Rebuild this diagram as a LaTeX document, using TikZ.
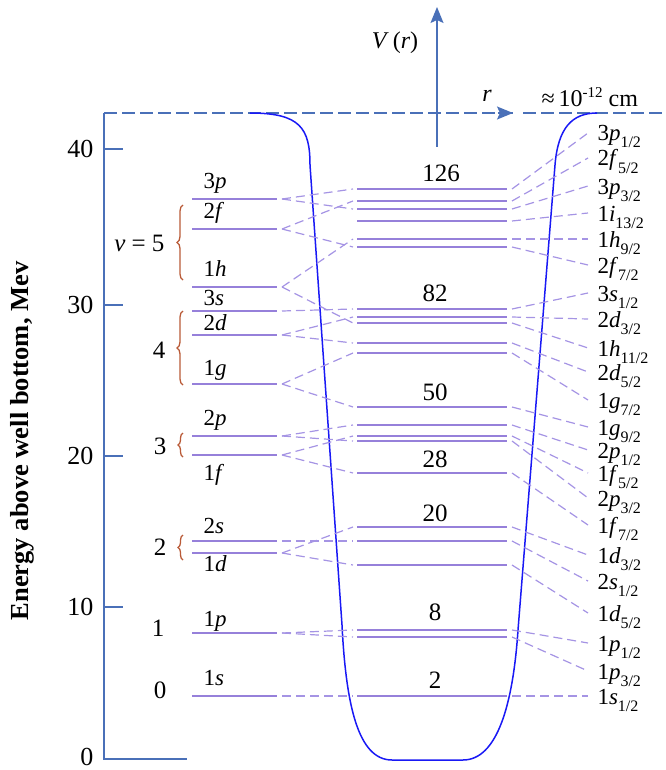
\documentclass[tikz,border=0pt]{standalone}
\usepackage{fontspec}
\setmainfont{Liberation Serif}
\usetikzlibrary{arrows.meta,decorations.pathreplacing}
\definecolor{axisblue}{RGB}{74,112,184}
\definecolor{lvl}{RGB}{150,128,218}
\definecolor{lvldash}{RGB}{165,148,228}
\definecolor{wellblue}{RGB}{25,25,245}
\definecolor{bracec}{RGB}{185,90,55}
\newcommand\myfs[1]{\fontsize{#1}{#1}\selectfont}
\newcommand\rlab[3]{#1\textit{#2}\raisebox{-7pt}{\myfs{16}#3}}
\begin{document}
\begin{tikzpicture}[x=1pt,y=-1pt,
  level/.style={draw=lvl,line width=1.5pt},
  conn/.style={draw=lvldash,line width=1.2pt,dash pattern=on 9pt off 5pt},
  axisline/.style={draw=axisblue,line width=1.4pt},
  axisdash/.style={draw=axisblue,line width=1.4pt,dash pattern=on 13pt off 5pt},
  tick/.style={anchor=east,font=\myfs{26}},
  osc/.style={anchor=east,font=\myfs{25}},
  llab/.style={anchor=base west,font=\myfs{23}},
  rl/.style={anchor=base west,font=\myfs{23}},
  magic/.style={font=\myfs{25}},
  bracestyle/.style={draw=bracec,line width=1.3pt,decorate,decoration={brace,amplitude=6pt}}
]
\useasboundingbox (0,0) rectangle (665,770);

% axes
\coordinate (ax0) at (104,113);
\coordinate (ax1) at (104,759);
\coordinate (ax2) at (187,759);
\draw[axisline] (ax0) -- (ax1) -- (ax2);
\coordinate (rarr) at (513,113);
\coordinate (rend) at (665,113);
\coordinate (rgap) at (523,113);
\draw[axisdash] (ax0) -- (rarr);
\draw[axisline,-{Stealth[length=16pt,width=13pt,inset=3pt]}] (498,113) -- (rarr);
\draw[axisdash] (rgap) -- (rend);
\coordinate (vbot) at (437,147);
\coordinate (vtop) at (437,7);
\draw[axisline,-{Stealth[length=16pt,width=13pt,inset=3pt]}] (vbot) -- (vtop);
\node[font=\myfs{24}] (vlab) at (395,43) {\textit{V}\,(\textit{r})};
\node[font=\myfs{24}] (rlabel) at (487,96) {\textit{r}};
\node[anchor=west,font=\myfs{24}] (scale) at (538,97) {≈\,10\raisebox{9pt}{\myfs{15}-12} cm};

% ticks
\foreach \v/\y in {40/149,30/305,20/456,10/607}{
  \draw[axisline] (104,\y) -- (123,\y);
  \node[tick] (t\v) at (97,\y) {\v};
}
\node[tick] (t0) at (97,757) {0};

% y label
\node[rotate=90,font=\bfseries\myfs{26}] (ylab) at (22,441) {\scalebox{1.02}[1]{Energy above well bottom, Mev}};

% well
\draw[wellblue,line width=1.5pt] (250,113) .. controls (300,113) and (310,128) .. (310,165)
  -- (342,625) .. controls (346,705) and (358,760) .. (392,760) -- (463,760)
  .. controls (497,760) and (513,705) .. (518,630) -- (555,165)
  .. controls (558,128) and (572,113) .. (597,113);

% left oscillator levels
\foreach \n/\y in {3p/199,2f/229,1h/287,3s/311,2d/335,1g/384,2p/436,1f/455,2s/541,1d/553,1p/633,1s/696}{
  \draw[level] (192,\y) -- (277,\y);
  \coordinate (L\n) at (282,\y);
}
\node[llab] (n3p) at (200,189) {3\textit{p}};
\node[llab] (n2f) at (200,218) {2\textit{f}};
\node[llab] (n1h) at (200,276) {1\textit{h}};
\node[llab] (n3s) at (200,305) {3\textit{s}};
\node[llab] (n2d) at (200,330) {2\textit{d}};
\node[llab] (n1g) at (200,375) {1\textit{g}};
\node[llab] (n2p) at (200,425) {2\textit{p}};
\node[llab] (n1f) at (200,480) {1\textit{f}};
\node[llab] (n2s) at (200,533) {2\textit{s}};
\node[llab] (n1d) at (200,571) {1\textit{d}};
\node[llab] (n1p) at (200,626) {1\textit{p}};
\node[llab] (n1s) at (200,685) {1\textit{s}};

% oscillator numbers and braces
\node[osc] (v5) at (168,243) {\textit{v} = 5};
\node[osc] (v4) at (169,350) {4};
\node[osc] (v3) at (170,446) {3};
\node[osc] (v2) at (170,547) {2};
\node[osc] (v1) at (168,628) {1};
\node[osc] (v0) at (170,690) {0};
\draw[bracestyle] (183,280) -- (183,205);
\draw[bracestyle] (183,385) -- (183,311);
\draw[bracestyle,decoration={brace,amplitude=5pt}] (183,457) -- (183,433);
\draw[bracestyle,decoration={brace,amplitude=5pt}] (183,560) -- (183,535);

% middle levels
\foreach \i/\y in {1/189,2/201,3/209,4/221,5/239,6/247,7/309,8/317,9/323,10/343,11/353,12/407,13/425,14/436,15/441,16/473,17/527,18/541,19/565,20/630,21/637,22/696}{
  \draw[level] (357,\y) -- (507,\y);
  \coordinate (ML\i) at (353,\y);
  \coordinate (MR\i) at (512,\y);
}
\node[magic] (m126) at (441,173) {126};
\node[magic] (m82) at (435,293) {82};
\node[magic] (m50) at (435,392) {50};
\node[magic] (m28) at (435,459) {28};
\node[magic] (m20) at (435,513) {20};
\node[magic] (m8) at (435,612) {8};
\node[magic] (m2) at (435,680) {2};

% right label points
\foreach \i/\y in {1/133,2/158,3/186,4/213,5/239,6/265,7/293,8/319,9/348,10/372,11/400,12/427,13/450,14/473,15/498,16/525,17/555,18/581,19/613,20/643,21/671,22/696}{
  \coordinate (R\i) at (588,\y);
  \draw[conn] (MR\i) -- (R\i);
}
\node[rl] (r1) at (594,141) {\rlab{3}{p}{1/2}};
\node[rl] (r2) at (594,166) {\rlab{2}{f}{5/2}};
\node[rl] (r3) at (594,194) {\rlab{3}{p}{3/2}};
\node[rl] (r4) at (594,221) {\rlab{1}{i}{13/2}};
\node[rl] (r5) at (594,247) {\rlab{1}{h}{9/2}};
\node[rl] (r6) at (594,273) {\rlab{2}{f}{7/2}};
\node[rl] (r7) at (594,301) {\rlab{3}{s}{1/2}};
\node[rl] (r8) at (594,327) {\rlab{2}{d}{3/2}};
\node[rl] (r9) at (594,356) {\rlab{1}{h}{11/2}};
\node[rl] (r10) at (594,380) {\rlab{2}{d}{5/2}};
\node[rl] (r11) at (594,408) {\rlab{1}{g}{7/2}};
\node[rl] (r12) at (594,435) {\rlab{1}{g}{9/2}};
\node[rl] (r13) at (594,458) {\rlab{2}{p}{1/2}};
\node[rl] (r14) at (594,481) {\rlab{1}{f}{5/2}};
\node[rl] (r15) at (594,506) {\rlab{2}{p}{3/2}};
\node[rl] (r16) at (594,533) {\rlab{1}{f}{7/2}};
\node[rl] (r17) at (594,563) {\rlab{1}{d}{3/2}};
\node[rl] (r18) at (594,589) {\rlab{2}{s}{1/2}};
\node[rl] (r19) at (594,621) {\rlab{1}{d}{5/2}};
\node[rl] (r20) at (594,651) {\rlab{1}{p}{1/2}};
\node[rl] (r21) at (594,679) {\rlab{1}{p}{3/2}};
\node[rl] (r22) at (594,704) {\rlab{1}{s}{1/2}};

% left-to-middle connectors
\draw[conn] (L3p) -- (ML1);  \draw[conn] (L3p) -- (ML3);
\draw[conn] (L2f) -- (ML2);  \draw[conn] (L2f) -- (ML6);
\draw[conn] (L1h) -- (ML5);  \draw[conn] (L1h) -- (ML9);
\draw[conn] (L3s) -- (ML7);
\draw[conn] (L2d) -- (ML8);  \draw[conn] (L2d) -- (ML10);
\draw[conn] (L1g) -- (ML11); \draw[conn] (L1g) -- (ML12);
\draw[conn] (L2p) -- (ML13); \draw[conn] (L2p) -- (ML15);
\draw[conn] (L1f) -- (ML14); \draw[conn] (L1f) -- (ML16);
\draw[conn] (L2s) -- (ML18);
\draw[conn] (L1d) -- (ML17); \draw[conn] (L1d) -- (ML19);
\draw[conn] (L1p) -- (ML20); \draw[conn] (L1p) -- (ML21);
\draw[conn] (L1s) -- (ML22);
\end{tikzpicture}
\end{document}
